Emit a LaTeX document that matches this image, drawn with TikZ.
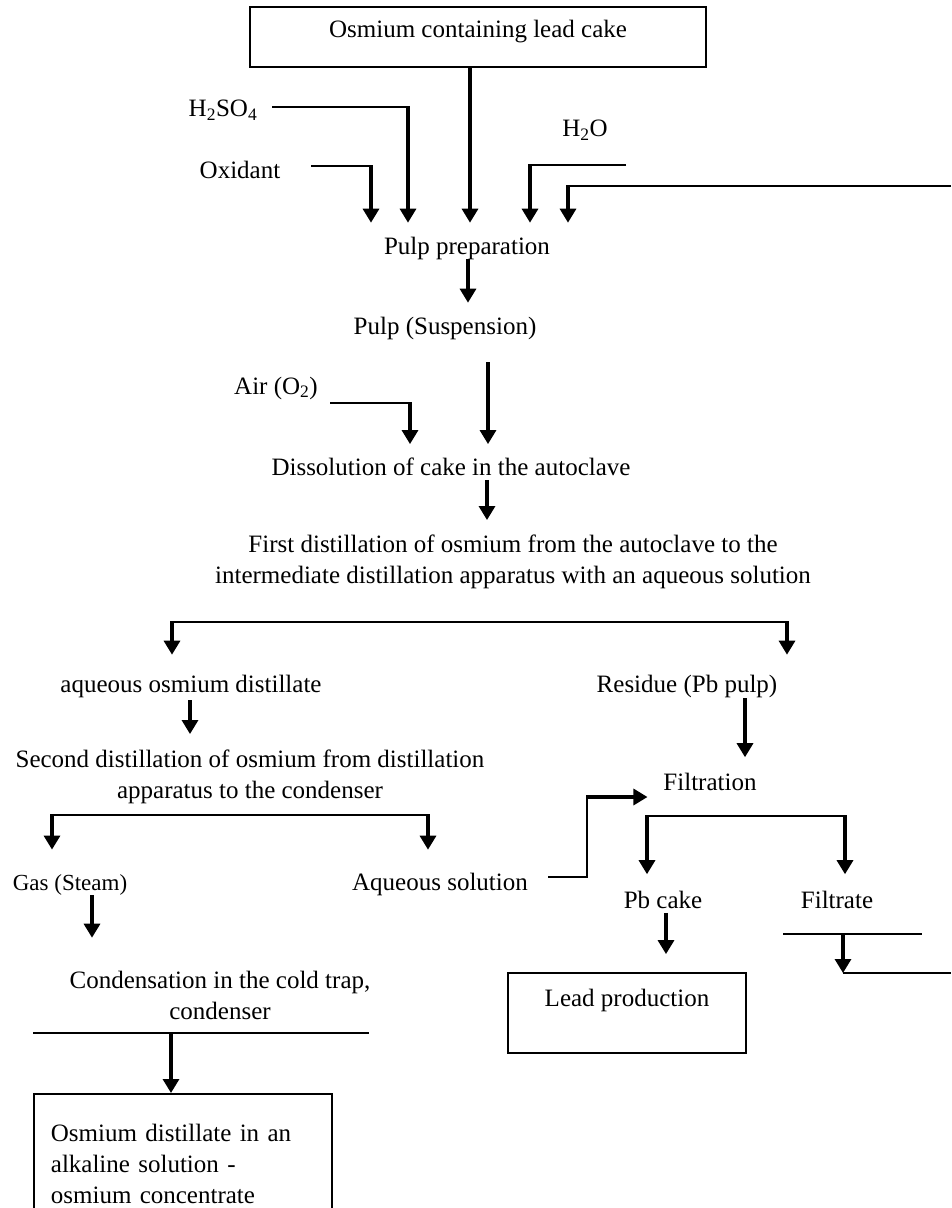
\documentclass[tikz,border=0pt]{standalone}
\usepackage{fontspec}
\setmainfont{Liberation Serif}
\usetikzlibrary{arrows.meta,positioning}

\begin{document}
\begin{tikzpicture}[x=1pt,y=-1pt,font=\fontsize{25}{31}\selectfont]
 	\tikzstyle{main}=[inner sep=0pt, outer sep=0pt, align=center]
 	\tikzstyle{connect}=[-{Triangle[width=16pt,length=14pt]}, line width=3.2pt, shorten >=14pt]
 	\tikzstyle{feed}=[line width=2pt]
 	\tikzstyle{box}=[rectangle, draw=black, line width=1.8pt, inner sep=0pt]
 	\useasboundingbox (0,0) rectangle (951,1208);
 	\clip (0,0) rectangle (951,1208);
 	\node[box, minimum width=456pt, minimum height=60pt] (cake) at (478,37) [label={[yshift=5pt]center:Osmium containing lead cake}] { };
 	\node[main] (prep) at (467,248) {Pulp preparation};
 	\node[main] (susp) at (445,328) {Pulp (Suspension)};
 	\node[main] (diss) at (451,467) {Dissolution of cake in the autoclave};
 	\node[main] (first) at (513,562) {First distillation of osmium from the autoclave to the\\intermediate distillation apparatus with an aqueous solution};
 		\node[main] (aqd) at (191,686) {aqueous osmium distillate};
 		\node[main] (resid) at (687,686) {Residue (Pb pulp)};
 	\node[main] (second) at (250,777) {Second distillation of osmium from distillation\\apparatus to the condenser};
 	\node[main, font=\fontsize{23}{27}\selectfont] (gas) at (70,885) {Gas (Steam)};
 	\node[main] (aqsol) at (440,884) {Aqueous solution};
 	\node[main] (filt) at (710,782) {Filtration};
 	\node[main] (pbcake) at (663,900) {Pb cake};
 	\node[main] (filtrate) at (837,900) {Filtrate};
 	\node[main] (cond) at (220,995) {Condensation in the cold trap,\\condenser};
 	\node[box, minimum width=238pt, minimum height=80pt] (lead) at (627,1013) [label={[yshift=13pt]center:Lead production}] { };
 	\node[box, anchor=north west, text width=264pt, align=left, inner xsep=17pt, inner ysep=13pt, minimum height=140pt] (conc) at (33,1093) {Osmium distillate in an\\alkaline solution -\\osmium concentrate};
 	\node[main] (acid) at (223,110) {H\textsubscript{2}SO\textsubscript{4}};
 	\node[main] (oxid) at (240,170) {Oxidant};
 	\node[main] (water) at (585,130) {H\textsubscript{2}O};
 	\node[main] (air) at (276,388) {Air (O\textsubscript{2})};
 	\coordinate (acidS) at (272,107);
 	\coordinate (acidC) at (408,107);
 	\coordinate (oxidS) at (311,166);
 	\coordinate (oxidC) at (371,166);
 	\coordinate (waterS) at (626,165);
 	\coordinate (waterC) at (530,165);
 	\coordinate (backS) at (951,186);
 	\coordinate (backC) at (568,186);
 	\coordinate (airS) at (330,403);
 	\coordinate (airC) at (410,403);
 	\coordinate (b1L) at (172,622);
 	\coordinate (b1R) at (787,622);
 	\coordinate (b2L) at (52,815);
 	\coordinate (b2R) at (428,815);
 	\coordinate (b3L) at (647,816);
 	\coordinate (b3R) at (845,816);
 	\coordinate (aqS) at (548,877);
 	\coordinate (aqC1) at (587,877);
 	\coordinate (aqC2) at (587,797);
 	\coordinate (fL) at (783,934);
 	\coordinate (fR) at (922,934);
 	\coordinate (fM) at (843,934);
 	\coordinate (fout) at (951,973);
 	\coordinate (cL) at (33,1033);
 	\coordinate (cR) at (369,1033);
 	\coordinate (cM) at (171,1033);
 	\draw[feed] (acidS) -- (acidC);
 	\draw[feed] (oxidS) -- (oxidC);
 	\draw[feed] (waterS) -- (waterC);
 	\draw[feed] (backS) -- (backC);
 	\draw[feed] (airS) -- (airC);
 	\draw[feed] (b1L) -- (b1R);
 	\draw[feed] (b2L) -- (b2R);
 	\draw[feed] (b3L) -- (b3R);
 	\draw[feed] (aqS) -- (aqC1) -- (aqC2);
 	\draw[feed] (fL) -- (fR);
 	\draw[feed] (fM |- fout) -- (fout);
 	\draw[feed] (cL) -- (cR);
 	\draw[connect] ([xshift=-8pt]cake.south) -- ([xshift=-8pt]cake.south |- prep.north);
 	\draw[connect] ([yshift=1pt]acidC) -- (acidC |- prep.north);
 	\draw[connect] ([yshift=1pt]oxidC) -- (oxidC |- prep.north);
 	\draw[connect] ([yshift=1pt]waterC) -- (waterC |- prep.north);
 	\draw[connect] ([yshift=1pt]backC) -- (backC |- prep.north);
 	\draw[connect] ([xshift=1pt]prep.south) -- ([xshift=1pt]prep.south |- susp.north);
 	\draw[connect, shorten <=23pt] ([xshift=43pt]susp.south) -- ([xshift=43pt]susp.south |- diss.north);
 	\draw[connect] ([yshift=1pt]airC) -- (airC |- diss.north);
 	\draw[connect, shorten <=4pt, shorten >=15pt] ([xshift=36pt]diss.south) -- ([xshift=36pt]diss.south |- first.north);
 	\draw[connect, shorten >=20pt] ([yshift=1pt]b1L) -- (b1L |- aqd.north);
 	\draw[connect, shorten >=20pt] ([yshift=1pt]b1R) -- (b1R |- resid.north);
 	\draw[connect, shorten <=3pt, shorten >=16pt] ([xshift=-1pt]aqd.south) -- ([xshift=-1pt]aqd.south |- second.north);
 	\draw[connect, shorten <=1pt, shorten >=16pt] ([xshift=58pt]resid.south) -- ([xshift=58pt]resid.south |- filt.north);
 	\draw[connect, shorten >=25pt] ([yshift=1pt]b2L) -- (b2L |- gas.north);
 	\draw[connect, shorten >=23pt] ([yshift=1pt]b2R) -- (b2R |- aqsol.north);
 	\draw[connect, shorten >=16pt] ([xshift=-1pt]aqC2) -- (aqC2 -| filt.west);
 	\draw[connect, shorten >=17pt] ([yshift=1pt]b3L) -- (b3L |- pbcake.north);
 	\draw[connect, shorten >=17pt] ([yshift=1pt]b3R) -- (b3R |- filtrate.north);
 	\draw[connect, shorten <=4pt, shorten >=18pt] ([xshift=3pt]pbcake.south) -- ([xshift=3pt]pbcake.south |- lead.north);
 	\draw[connect, shorten >=0pt] (fM) -- (fM |- fout);
 	\draw[connect, shorten >=33pt] ([xshift=22pt]gas.south) -- ([xshift=22pt]gas.south |- cond.north);
 	\draw[connect, shorten >=0pt] (cM) -- (cM |- conc.north);
\end{tikzpicture}
\end{document}
